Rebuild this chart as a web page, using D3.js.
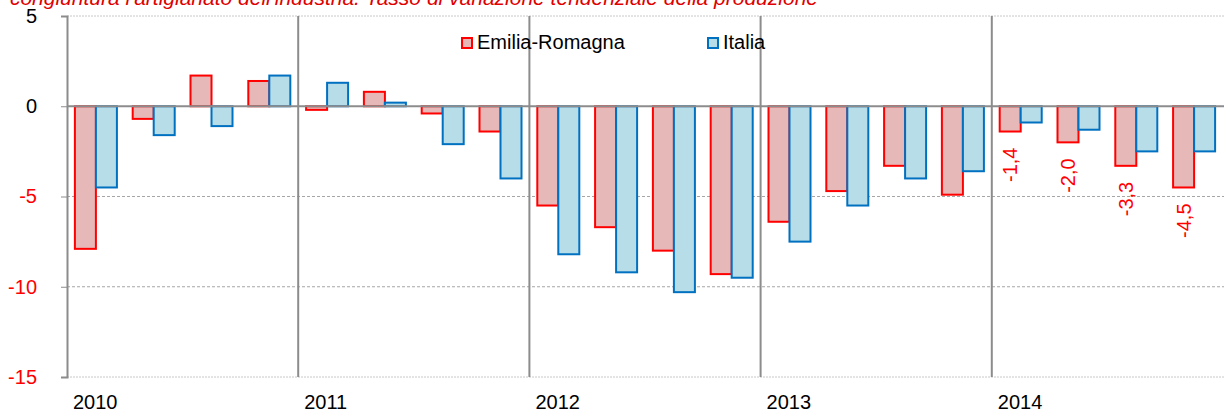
<!DOCTYPE html>
<html>
<head>
<meta charset="utf-8">
<script src="https://cdn.jsdelivr.net/npm/d3@7"></script>
<style>
  html, body { margin: 0; padding: 0; background: #fff; }
  svg { display: block; font-family: "Liberation Sans", Arial, sans-serif; }
</style>
</head>
<body>
<svg id="chart" width="1224" height="412"></svg>
<script>
const titleText = "congiuntura l'artigianato dell'industria. Tasso di variazione tendenziale della produzione";
const years = ["2010", "2011", "2012", "2013", "2014"];
const quarters = ["2010-I","2010-II","2010-III","2010-IV","2011-I","2011-II","2011-III","2011-IV",
                  "2012-I","2012-II","2012-III","2012-IV","2013-I","2013-II","2013-III","2013-IV",
                  "2014-I","2014-II","2014-III","2014-IV"];
const seriesNames = ["Emilia-Romagna", "Italia"];
const emiliaRomagna = [-7.9, -0.7, 1.7, 1.4, -0.2, 0.8, -0.4, -1.4, -5.5, -6.7, -8.0, -9.3, -6.4, -4.7, -3.3, -4.9, -1.4, -2.0, -3.3, -4.5];
const italia        = [-4.5, -1.6, -1.1, 1.7, 1.3, 0.2, -2.1, -4.0, -8.2, -9.2, -10.3, -9.5, -7.5, -5.5, -4.0, -3.6, -0.9, -1.3, -2.5, -2.5];
const labelledQuarters = ["2014-I","2014-II","2014-III","2014-IV"];
const yTicks = [5, 0, -5, -10, -15];

(function () {
const svg = d3.select("#chart");
const pLeft = 67, pRight = 1223, pTop = 16, pBottom = 377;

const y = d3.scaleLinear().domain([-15, 5]).range([pBottom, pTop]);
const x0 = d3.scaleBand().domain(quarters).range([pLeft, pRight]).padding(0);
const xYear = d3.scaleBand().domain(years).range([pLeft, pRight]).padding(0);
const x1 = d3.scaleBand().domain(seriesNames).range([0, x0.bandwidth()]).paddingInner(0).paddingOuter(0.376);

const fills = { "Emilia-Romagna": "#e6b9b8", "Italia": "#b7dee8" };
const strokes = { "Emilia-Romagna": "#ff0000", "Italia": "#0070c0" };
const values = { "Emilia-Romagna": emiliaRomagna, "Italia": italia };

// title (cut off at top)
svg.append("text")
  .attr("x", 818).attr("y", 5)
  .attr("text-anchor", "end")
  .attr("font-size", 21).attr("font-style", "italic")
  .attr("fill", "#e00000")
  .text(titleText);

// gridlines
const grid = svg.append("g");
yTicks.filter(t => t !== 0).forEach(t => {
  const outer = (t === 5 || t === -15);
  grid.append("line")
    .attr("x1", pLeft).attr("x2", 1224)
    .attr("y1", y(t)).attr("y2", y(t))
    .attr("stroke", outer ? "#c8c8c8" : "#a6a6a6")
    .attr("stroke-width", 1)
    .attr("stroke-dasharray", outer ? "2,1" : "3,2");
});

// year separators
years.slice(1).forEach(yr => {
  svg.append("line")
    .attr("x1", xYear(yr)).attr("x2", xYear(yr))
    .attr("y1", pTop).attr("y2", pBottom)
    .attr("stroke", "#8c8c8c").attr("stroke-width", 2);
});

// bars
const groups = svg.append("g").selectAll("g")
  .data(quarters)
  .join("g")
  .attr("transform", d => `translate(${x0(d)},0)`);

seriesNames.forEach(s => {
  groups.append("rect")
    .attr("x", x1(s))
    .attr("width", x1.bandwidth())
    .attr("y", (d, i) => y(Math.max(0, values[s][i])))
    .attr("height", (d, i) => Math.abs(y(values[s][i]) - y(0)))
    .attr("fill", fills[s])
    .attr("stroke", strokes[s])
    .attr("stroke-width", 2);
});

// zero line
svg.append("line")
  .attr("x1", pLeft).attr("x2", 1224)
  .attr("y1", y(0)).attr("y2", y(0))
  .attr("stroke", "#8c8c8c").attr("stroke-width", 2);

// y axis
const yAxis = d3.axisLeft(y).tickValues(yTicks).tickSize(6).tickPadding(24).tickFormat(d => String(d));
const ya = svg.append("g").attr("transform", `translate(${pLeft},0)`).call(yAxis);
ya.select(".domain").attr("stroke", "#8c8c8c").attr("stroke-width", 2);
ya.selectAll(".tick line").attr("stroke", "#8c8c8c").attr("stroke-width", 1);
ya.selectAll(".tick text")
  .attr("font-size", 20)
  .attr("font-family", "'Liberation Sans', Arial, sans-serif")
  .attr("fill", d => d < 0 ? "#ff0000" : "#000");

// year labels
svg.append("g").selectAll("text")
  .data(years)
  .join("text")
  .attr("x", d => xYear(d) + 6)
  .attr("y", 409)
  .attr("font-size", 20)
  .attr("fill", "#000")
  .text(d => d);

// data labels (rotated) for 2014 Emilia-Romagna
const fmt = v => v.toFixed(1).replace(".", ",");
labelledQuarters.forEach(q => {
  const i = quarters.indexOf(q);
  const v = emiliaRomagna[i];
  const cx = x0(q) + x1("Emilia-Romagna") + x1.bandwidth() / 2;
  const yy = y(v) + 16;
  svg.append("text")
    .attr("transform", `translate(${cx + 7},${yy}) rotate(-90)`)
    .attr("text-anchor", "end")
    .attr("font-size", 20)
    .attr("fill", "#ff0000")
    .text(fmt(v));
});

// legend
const legendPos = { "Emilia-Romagna": 461, "Italia": 707 };
seriesNames.forEach(s => {
  const lx = legendPos[s];
  svg.append("rect")
    .attr("x", lx + 1).attr("y", 38).attr("width", 10).attr("height", 10)
    .attr("fill", fills[s]).attr("stroke", strokes[s]).attr("stroke-width", 2);
  svg.append("text")
    .attr("x", lx + 16).attr("y", 49)
    .attr("font-size", 20).attr("fill", "#000")
    .text(s);
});
})();
</script>
</body>
</html>
